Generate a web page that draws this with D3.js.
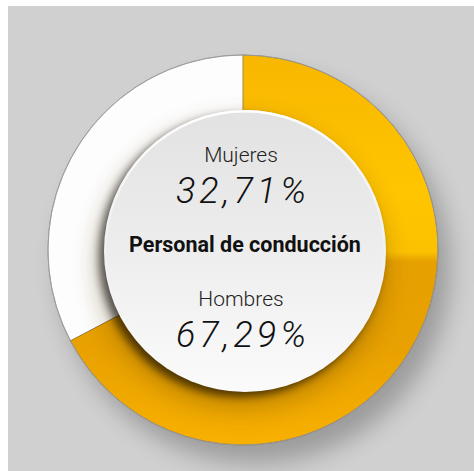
<!DOCTYPE html>
<html>
<head>
<meta charset="utf-8">
<script src="https://cdn.jsdelivr.net/npm/d3@7"></script>
<style>
  html, body { margin: 0; padding: 0; background: #fff; }
</style>
</head>
<body>
<script>
// Datos
const categories = ["Mujeres", "Hombres"];
const values = [32.71, 67.29];
const valueLabels = ["32,71%", "67,29%"];
const title = "Personal de conducción";
const sliceColors = ["#fdfdfd", "url(#orangeGrad)"];

const W = 474, H = 471;
const cx = 243, cy = 250;
const outerR = 195, innerR = 141;

const svg = d3.select("body").append("svg")
  .attr("width", W)
  .attr("height", H);

const defs = svg.append("defs");

// sombras
const innerShadow = defs.append("filter").attr("id", "innerShadow")
  .attr("x", "-20%").attr("y", "-20%").attr("width", "140%").attr("height", "140%");
innerShadow.append("feGaussianBlur").attr("stdDeviation", 4);

const bigShadow = defs.append("filter").attr("id", "bigShadow")
  .attr("x", "-30%").attr("y", "-30%").attr("width", "160%").attr("height", "160%");
bigShadow.append("feGaussianBlur").attr("stdDeviation", 12);

// gradiente naranja (coordenadas locales del grupo centrado)
const og = defs.append("linearGradient").attr("id", "orangeGrad")
  .attr("gradientUnits", "userSpaceOnUse")
  .attr("x1", 0).attr("y1", -outerR).attr("x2", 0).attr("y2", outerR);
[["0%", "#f8b700"], ["35%", "#ffc500"], ["50.5%", "#fcc100"], ["53%", "#e6a000"],
 ["75%", "#e8a100"], ["100%", "#f8b000"]].forEach(s =>
  og.append("stop").attr("offset", s[0]).attr("stop-color", s[1]));

// gradiente disco interior
const dg = defs.append("linearGradient").attr("id", "discGrad")
  .attr("x1", 0).attr("y1", 0).attr("x2", 0).attr("y2", 1);
dg.append("stop").attr("offset", "0%").attr("stop-color", "#e2e2e2");
dg.append("stop").attr("offset", "45%").attr("stop-color", "#ececec");
dg.append("stop").attr("offset", "100%").attr("stop-color", "#fbfbfb");

const rg = defs.append("linearGradient").attr("id", "rimGrad")
  .attr("x1", 0).attr("y1", 0).attr("x2", 0).attr("y2", 1);
rg.append("stop").attr("offset", "0%").attr("stop-color", "#ffffff").attr("stop-opacity", 1);
rg.append("stop").attr("offset", "50%").attr("stop-color", "#ffffff").attr("stop-opacity", 0.2);
rg.append("stop").attr("offset", "100%").attr("stop-color", "#ffffff").attr("stop-opacity", 0);

const clip = defs.append("clipPath").attr("id", "donutClip");
clip.append("circle").attr("cx", cx).attr("cy", cy).attr("r", outerR);

// fondo
svg.append("rect")
  .attr("x", 8).attr("y", 6)
  .attr("width", W - 8).attr("height", H - 6)
  .attr("fill", "#d0d0d0");

// sombra exterior del donut
svg.append("circle")
  .attr("cx", cx + 12).attr("cy", cy + 18).attr("r", outerR)
  .attr("fill", "#000").attr("opacity", 0.25)
  .attr("filter", "url(#bigShadow)");

const total = d3.sum(values);
const start = -values[0] / total * 2 * Math.PI;

const pie = d3.pie()
  .sort(null)
  .value(d => d.value)
  .startAngle(start)
  .endAngle(start + 2 * Math.PI);

const arc = d3.arc().innerRadius(innerR - 20).outerRadius(outerR);

const data = categories.map((c, i) => ({ name: c, value: values[i] }));

const g = svg.append("g").attr("transform", `translate(${cx},${cy})`);

g.selectAll("path.slice")
  .data(pie(data))
  .enter()
  .append("path")
  .attr("class", "slice")
  .attr("d", arc)
  .attr("fill", (d, i) => sliceColors[i])
  .attr("stroke", "rgba(0,0,0,0.3)")
  .attr("stroke-width", 0.8);

// contorno
g.append("circle")
  .attr("r", outerR)
  .attr("fill", "none")
  .attr("stroke", "#9a9a9a")
  .attr("stroke-width", 0.9);

// sombra del disco interior
const sh = svg.append("g").attr("clip-path", "url(#donutClip)");
sh.append("circle")
  .attr("cx", cx - 2).attr("cy", cy + 14).attr("r", innerR + 4)
  .attr("fill", "#5a3a00").attr("opacity", 0.3)
  .attr("filter", "url(#bigShadow)");
sh.append("circle")
  .attr("cx", cx - 3).attr("cy", cy + 6).attr("r", innerR)
  .attr("fill", "#000").attr("opacity", 0.6)
  .attr("filter", "url(#innerShadow)");

// disco interior
svg.append("circle")
  .attr("cx", cx + 2).attr("cy", cy + 1).attr("r", innerR)
  .attr("fill", "url(#discGrad)");
svg.append("circle")
  .attr("cx", cx + 2).attr("cy", cy + 1).attr("r", innerR - 1.2)
  .attr("fill", "none")
  .attr("stroke", "url(#rimGrad)")
  .attr("stroke-width", 2.4);

// textos
const tx = cx - 2;
const labelY = [162, 306];
const valueY = [203, 347];

categories.forEach((c, i) => {
  svg.append("text")
    .attr("x", tx).attr("y", labelY[i])
    .attr("text-anchor", "middle")
    .style("font-family", "Roboto, sans-serif")
    .style("font-weight", 300)
    .style("font-size", "21px")
    .style("fill", "#222")
    .text(c);

  svg.append("text")
    .attr("x", tx + 2).attr("y", valueY[i])
    .attr("text-anchor", "middle")
    .style("font-family", "Roboto, sans-serif")
    .style("font-weight", 300)
    .style("font-size", "36px")
    .style("font-style", "italic")
    .style("letter-spacing", "4px")
    .style("fill", "#111")
    .text(valueLabels[i]);
});

svg.append("text")
  .attr("x", cx + 2).attr("y", 252)
  .attr("text-anchor", "middle")
  .style("font-family", "Roboto, sans-serif")
  .style("font-weight", 700)
  .style("font-size", "21.5px")
  .style("fill", "#111")
  .text(title);
</script>
</body>
</html>
